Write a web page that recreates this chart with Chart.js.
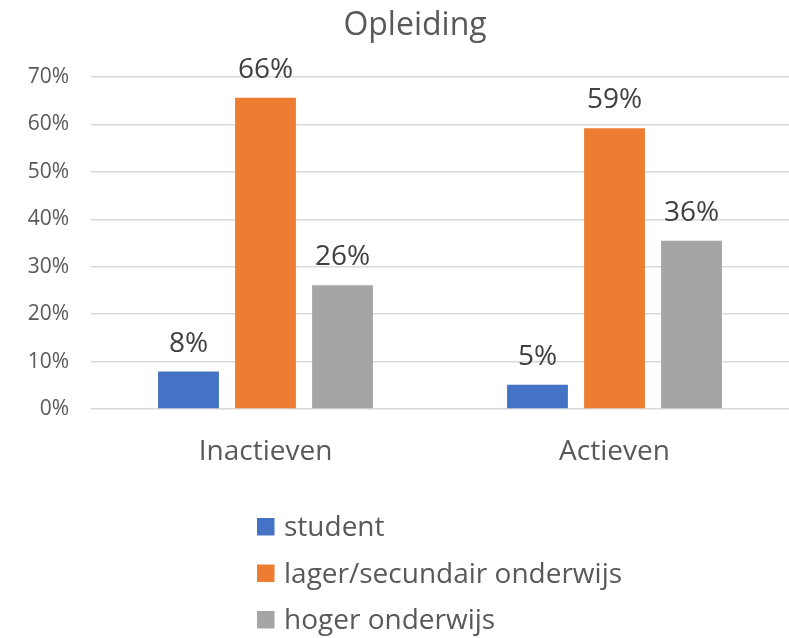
<!DOCTYPE html>
<html>
<head>
<meta charset="utf-8">
<script src="https://cdn.jsdelivr.net/npm/chart.js@4"></script>
<style>
  html, body { margin: 0; padding: 0; background: #fff; }
  #wrap { width: 789px; height: 638px; }
</style>
</head>
<body>
<div id="wrap"><canvas id="chart" width="789" height="638"></canvas></div>
<script>
// data
const categories = ['Inactieven', 'Actieven'];
const seriesNames = ['student', 'lager/secundair onderwijs', 'hoger onderwijs'];
const student = [7.9, 5.1];
const lagerSecundair = [65.6, 59.2];
const hogerOnderwijs = [26.1, 35.5];
const yTicks = [0, 10, 20, 30, 40, 50, 60, 70];

const colors = ['#4472C4', '#ED7D31', '#A5A5A5'];
const textColor = '#595959';
const fontFam = '"Open Sans", "Noto Sans", sans-serif';

// labels boven de balken + titel + legende
const extras = {
  id: 'extras',
  afterDatasetsDraw(chart) {
    const c = chart.ctx;
    c.save();
    c.font = '28px ' + fontFam;
    c.fillStyle = '#404040';
    c.textAlign = 'center';
    c.textBaseline = 'alphabetic';
    chart.data.datasets.forEach((ds, i) => {
      chart.getDatasetMeta(i).data.forEach((bar, j) => {
        c.fillText(Math.round(ds.data[j]) + '%', bar.x, bar.y - 20);
      });
    });
    c.restore();
  },
  afterDraw(chart) {
    const c = chart.ctx;
    c.save();
    // titel
    c.font = '32px ' + fontFam;
    c.fillStyle = textColor;
    c.textAlign = 'center';
    c.textBaseline = 'alphabetic';
    c.fillText('Opleiding', 415, 35);
    // legende (verticaal)
    c.font = '28px ' + fontFam;
    c.textAlign = 'left';
    chart.data.datasets.forEach((ds, i) => {
      const y = 527 + i * 46.5;
      c.fillStyle = ds.backgroundColor;
      c.fillRect(257, y - 9, 17.5, 17.5);
      c.fillStyle = textColor;
      c.fillText(ds.label, 284, y + 9);
    });
    c.restore();
  }
};

const ctx = document.getElementById('chart').getContext('2d');
const chart = new Chart(ctx, {
  type: 'bar',
  data: {
    labels: categories,
    datasets: [
      { label: seriesNames[0], data: student, backgroundColor: colors[0] },
      { label: seriesNames[1], data: lagerSecundair, backgroundColor: colors[1] },
      { label: seriesNames[2], data: hogerOnderwijs, backgroundColor: colors[2] }
    ]
  },
  options: {
    responsive: false,
    animation: false,
    devicePixelRatio: 1,
    layout: { padding: { top: 77, right: 0, bottom: 0, left: 0 } },
    datasets: {
      bar: { categoryPercentage: 0.662, barPercentage: 0.79 }
    },
    plugins: {
      legend: { display: false },
      title: { display: false },
      tooltip: { enabled: false }
    },
    scales: {
      x: {
        grid: { display: false },
        border: { display: false },
        ticks: {
          color: textColor,
          font: { family: fontFam, size: 28 },
          padding: 18
        },
        afterFit(scale) { scale.height = 638 - 409; }
      },
      y: {
        min: 0,
        max: 70,
        afterBuildTicks(scale) { scale.ticks = yTicks.map(v => ({ value: v })); },
        grid: { color: '#D9D9D9', lineWidth: 1.5, drawTicks: false },
        border: { display: false },
        ticks: {
          color: textColor,
          font: { family: fontFam, size: 21 },
          padding: 22,
          callback: v => v + '%'
        },
        afterFit(scale) { scale.width = 91; }
      }
    }
  },
  plugins: [extras]
});
</script>
</body>
</html>
